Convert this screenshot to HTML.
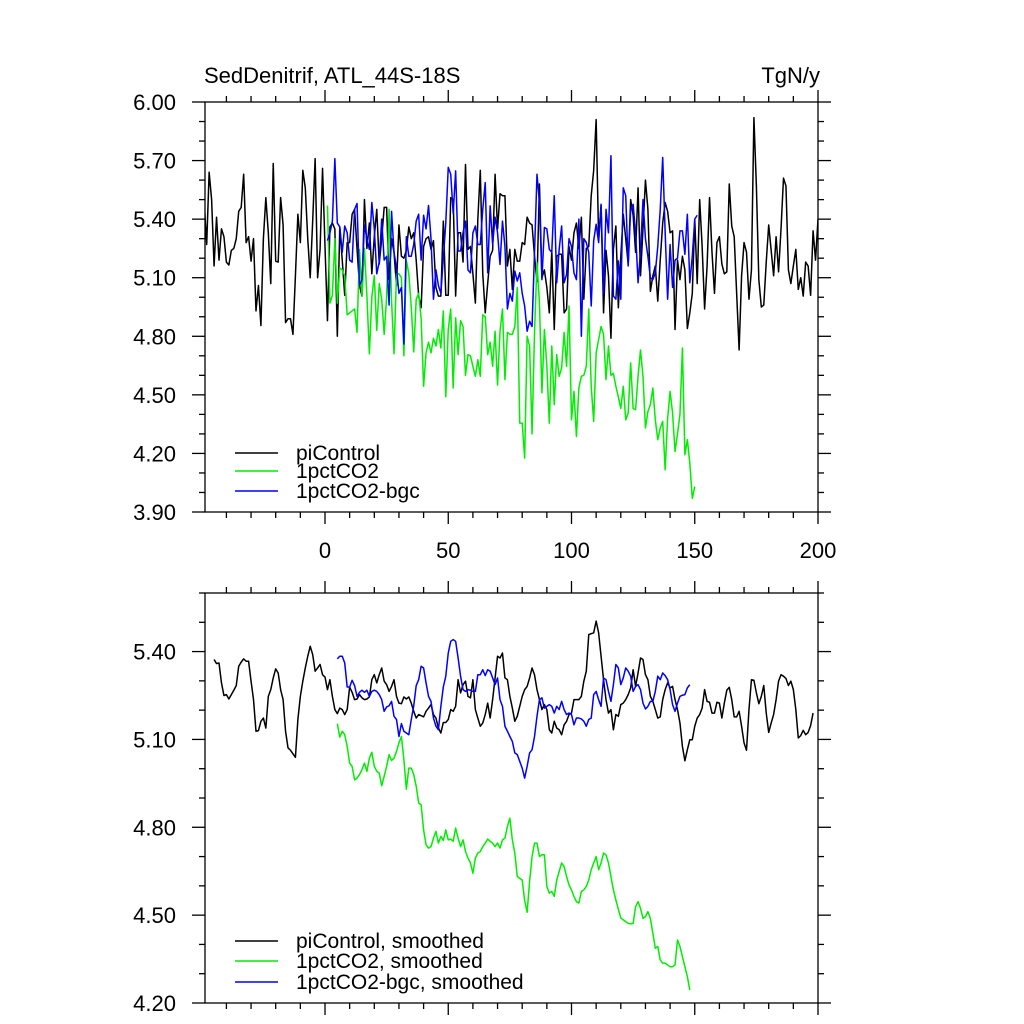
<!DOCTYPE html>
<html><head><meta charset="utf-8"><style>
html,body{margin:0;padding:0;background:#fff;}
svg{display:block;font-family:"Liberation Sans",Arial,sans-serif;}
</style></head><body>
<svg id="chart" width="1024" height="1024" viewBox="0 0 1024 1024" xmlns="http://www.w3.org/2000/svg">
<defs>
<clipPath id="clipTop"><rect x="205" y="102" width="613" height="410"/></clipPath>
<clipPath id="clipBot"><rect x="205" y="593" width="613" height="410"/></clipPath>
</defs>
<text x="204" y="83" font-size="22">SedDenitrif, ATL_44S-18S</text>
<text x="820" y="83" font-size="22" text-anchor="end">TgN/y</text>
<g id="top"></g>
<g id="bot"></g>
</svg>
<script>
const piTopStart = -49;
const piTop = [5.485,5.27,5.64,5.50,5.16,5.41,5.19,5.35,5.31,5.18,5.165,5.24,5.25,5.30,5.44,5.46,5.63,5.28,5.31,5.185,5.30,4.93,5.06,4.855,5.30,5.51,5.33,5.07,5.685,5.185,5.18,5.51,5.37,4.87,4.89,4.89,4.81,5.11,5.425,5.28,5.65,5.56,5.30,5.10,5.39,5.71,5.10,5.245,5.66,5.26,
4.88,5.36,5.38,5.35,4.80,5.36,5.19,5.01,5.28,5.28,5.425,5.45,5.245,5.06,5.006,5.50,5.25,5.38,5.12,5.31,5.45,5.17,5.30,5.46,5.46,5.09,5.30,5.23,5.06,5.37,5.21,5.20,5.24,5.36,5.30,5.33,5.19,
5.006,4.946,5.26,5.30,5.31,5.245,5.29,5.05,5.006,5.006,5.39,5.01,5.01,5.51,5.50,5.006,5.33,5.33,5.18,5.68,5.245,5.26,5.12,4.97,5.40,5.65,5.12,4.92,5.07,5.21,5.24,5.63,5.35,5.53,5.52,5.52,5.16,5.245,5.04,5.245,5.185,5.185,5.28,5.27,5.41,5.38,5.37,5.21,5.08,5.58,5.10,5.14,5.05,4.92,5.24,4.835,5.21,5.22,5.22,4.92,4.94,5.26,5.19,5.33,5.38,5.25,5.41,4.99,5.25,5.26,5.52,5.65,5.91,5.30,5.47,4.92,5.24,5.11,4.79,5.245,5.365,4.946,5.21,5.425,5.30,5.17,
5.50,5.42,5.23,5.56,5.11,5.35,5.60,5.45,5.03,5.11,5.16,4.98,5.19,5.38,5.485,5.44,5.33,5.34,4.835,5.19,5.09,5.21,5.14,4.84,4.92,5.02,5.40,5.07,5.50,5.26,4.94,5.16,5.51,5.23,5.02,5.28,5.31,5.17,5.12,5.13,5.58,5.365,5.31,5.02,4.73,5.11,5.28,5.23,4.99,5.14,5.92,5.57,5.09,4.95,4.96,5.18,5.37,5.24,5.11,5.31,5.13,5.35,5.61,5.57,5.14,5.07,5.16,5.245,5.04,5.10,5.006,5.18,5.16,5.01,5.34,5.19,5.40];
const co2TopStart = 1;
const co2Top = [5.47,4.97,5.01,5.30,4.97,5.15,5.14,5.11,4.91,4.92,4.93,4.94,4.82,5.245,5.006,5.25,5.006,4.71,5.00,5.11,4.83,5.07,4.99,4.81,5.00,5.45,4.98,4.71,5.12,5.12,5.10,4.70,5.19,5.12,4.95,4.72,4.99,5.02,
4.89,4.544,4.715,4.77,4.715,4.79,4.75,4.835,4.74,4.93,4.49,4.835,4.94,4.535,4.895,4.706,4.88,4.85,4.60,4.706,4.70,4.646,4.595,4.68,4.595,4.91,4.90,4.706,4.77,4.646,4.826,4.55,4.826,4.94,4.578,4.82,4.81,4.81,4.85,5.05,4.355,4.355,4.176,4.80,4.75,4.30,4.82,5.177,4.97,4.51,4.835,4.646,4.355,4.75,4.45,4.706,4.595,4.638,4.82,4.646,4.955,4.372,4.518,4.287,4.535,4.595,4.60,4.646,4.94,4.544,4.364,4.715,4.783,4.85,4.81,4.578,4.75,4.60,4.61,4.544,4.49,4.43,4.544,4.372,4.407,
4.664,4.43,4.424,4.595,4.73,4.595,4.33,4.415,4.45,4.535,4.372,4.27,4.33,4.364,4.116,4.38,4.518,4.407,4.21,4.30,4.40,4.74,4.193,4.27,4.15,3.97,4.03];
const bgcTopStart = 1;
const bgcTop = [5.29,5.33,5.39,5.71,5.38,5.36,5.23,5.365,5.33,5.19,5.18,5.45,5.48,5.06,5.09,5.37,5.30,5.245,5.485,5.35,5.12,5.18,5.40,5.19,5.21,4.96,5.44,5.23,5.15,5.02,5.05,4.76,5.31,5.21,5.21,5.27,5.39,5.425,
5.19,5.42,5.35,5.47,5.30,4.99,5.14,5.06,5.02,5.20,5.38,5.665,5.63,5.43,5.647,5.237,5.237,5.33,5.39,5.14,5.125,5.33,5.365,5.27,5.27,5.45,5.587,5.125,5.468,5.27,5.41,5.33,5.168,5.39,5.26,4.94,5.02,4.98,5.134,5.083,5.125,5.02,4.955,4.826,4.877,4.85,5.23,5.63,5.485,5.09,5.357,5.35,5.245,5.23,5.52,5.074,5.245,5.365,5.074,5.117,5.30,5.26,5.125,5.09,5.40,4.80,5.30,5.28,5.23,4.955,5.29,5.374,5.28,5.476,5.02,5.45,5.33,5.725,5.006,4.99,5.186,4.99,5.56,5.52,5.16,5.45,
5.476,5.33,5.074,5.237,5.50,5.30,5.21,5.10,5.09,5.125,5.26,5.45,5.716,5.33,4.99,5.27,5.05,5.19,5.20,5.34,5.34,5.22,5.425,5.074,5.21,5.40,5.42];

const piBotStart = -45;
const piBot = [5.373,5.359,5.361,5.293,5.250,5.253,5.238,5.253,5.268,5.284,5.350,5.364,5.375,5.367,5.367,5.299,5.236,5.128,5.130,5.162,5.173,5.139,5.247,5.270,5.310,5.341,5.327,5.270,5.236,5.128,5.071,5.063,5.051,5.039,5.168,5.247,5.299,5.344,5.384,5.418,5.390,5.333,5.344,5.356,5.321,5.313,5.270,5.304,5.247,5.202,5.188,5.207,5.202,5.185,5.202,5.279,5.261,5.236,5.238,5.253,5.242,5.236,5.238,5.245,5.304,5.321,5.293,5.321,5.344,5.299,5.287,5.264,5.281,5.304,5.247,5.224,5.222,5.245,5.238,5.245,5.224,5.196,5.173,5.185,
5.181,5.177,5.196,5.207,5.219,5.185,5.173,5.139,5.122,5.158,5.158,5.168,5.202,5.196,5.213,5.304,5.259,5.287,5.299,5.247,5.242,5.304,5.202,5.173,5.145,5.156,5.185,5.224,5.173,5.236,5.310,5.384,5.378,5.395,5.310,5.304,5.247,5.207,5.162,5.179,5.213,5.247,5.270,5.281,5.310,5.344,5.321,5.270,5.236,5.202,5.219,5.202,5.133,5.122,5.162,5.139,5.133,5.116,5.150,5.162,5.185,5.190,5.236,5.236,5.236,5.247,5.299,5.333,5.458,5.461,5.464,5.504,5.464,5.384,5.304,5.236,5.190,5.202,5.133,5.185,5.179,5.219,5.224,5.236,5.253,5.276,
5.338,5.281,5.327,5.378,5.373,5.321,5.304,5.247,5.230,5.202,5.173,5.177,5.236,5.270,5.293,5.276,5.281,5.236,5.202,5.156,5.076,5.027,5.065,5.099,5.099,5.145,5.173,5.185,5.207,5.270,5.230,5.227,5.190,5.190,5.227,5.224,5.173,5.224,5.268,5.278,5.236,5.177,5.177,5.196,5.145,5.088,5.063,5.202,5.304,5.302,5.259,5.222,5.247,5.284,5.190,5.124,5.156,5.185,5.236,5.299,5.321,5.316,5.308,5.284,5.299,5.270,5.202,5.105,5.113,5.131,5.116,5.124,5.147,5.190];
const co2BotStart = 5;
const co2Bot = [5.154,5.108,5.128,5.116,5.076,5.019,5.008,4.962,4.968,4.980,4.997,5.019,4.991,5.036,5.056,5.008,4.991,4.985,4.942,4.974,5.008,5.048,5.028,5.036,5.059,5.088,5.110,5.031,4.930,5.002,5.002,4.980,4.940,4.883,
4.877,4.791,4.740,4.729,4.734,4.763,4.786,4.746,4.769,4.755,4.791,4.757,4.760,4.752,4.797,4.763,4.734,4.757,4.717,4.695,4.678,4.643,4.695,4.712,4.717,4.734,4.746,4.760,4.752,4.746,4.734,4.746,4.729,4.757,4.763,4.803,4.831,4.757,4.712,4.632,4.626,4.620,4.55,4.51,4.615,4.700,4.746,4.746,4.700,4.706,4.706,4.598,4.575,4.581,4.564,4.620,4.649,4.678,4.666,4.632,4.603,4.586,4.564,4.546,4.541,4.581,4.586,4.598,4.620,4.655,4.678,4.700,4.655,4.678,4.712,4.706,4.678,4.632,4.586,4.552,4.52,4.49,
4.484,4.478,4.472,4.470,4.472,4.529,4.546,4.523,4.489,4.495,4.512,4.489,4.438,4.387,4.393,4.347,4.336,4.336,4.330,4.324,4.324,4.330,4.415,4.393,4.358,4.324,4.290,4.244];
const bgcBotStart = 5;
const bgcBot = [5.375,5.384,5.384,5.361,5.279,5.279,5.302,5.284,5.247,5.261,5.268,5.261,5.268,5.247,5.264,5.268,5.264,5.253,5.236,5.196,5.211,5.215,5.230,5.179,5.168,5.110,5.154,5.128,5.122,5.116,5.168,5.215,5.284,5.304,
5.350,5.344,5.293,5.247,5.230,5.173,5.145,5.133,5.213,5.279,5.316,5.395,5.435,5.441,5.435,5.378,5.316,5.270,5.264,5.270,5.268,5.264,5.264,5.321,5.321,5.338,5.318,5.338,5.333,5.310,5.287,5.310,5.236,5.213,5.145,5.128,5.110,5.093,5.054,5.048,5.025,5.002,4.968,5.008,5.054,5.065,5.110,5.179,5.236,5.242,5.207,5.213,5.219,5.213,5.190,5.213,5.202,5.230,5.202,5.185,5.190,5.185,5.150,5.173,5.173,5.170,5.162,5.145,5.168,5.173,5.253,5.264,5.236,5.213,5.310,5.304,5.264,5.230,5.287,5.356,5.344,5.287,5.310,5.344,5.333,5.316,
5.264,5.281,5.287,5.270,5.224,5.204,5.213,5.230,5.230,5.264,5.316,5.304,5.327,5.318,5.304,5.270,5.219,5.196,5.224,5.247,5.251,5.253,5.276,5.287];

const xTickVals = [0,50,100,150,200];
const topYTicks = [3.90,4.20,4.50,4.80,5.10,5.40,5.70,6.00];
const botYTicks = [4.20,4.50,4.80,5.10,5.40];
const topLegend = ["piControl","1pctCO2","1pctCO2-bgc"];
const botLegend = ["piControl, smoothed","1pctCO2, smoothed","1pctCO2-bgc, smoothed"];
const colors = ["#000000","#00ee00","#0000ff"];

const NS = "http://www.w3.org/2000/svg";
const L = 205, R = 818;
function xs(v){ return 325 + (v - 0) * (R - 325) / 200; }
function mk(tag, attrs, parent){ const e = document.createElementNS(NS, tag); for (const k in attrs) e.setAttribute(k, attrs[k]); parent.appendChild(e); return e; }

function panel(g, top, bot, ymin, ymax, yTicks, clipId, series, legend, legY, showXLabels){
  const ys = v => bot - (v - ymin) * (bot - top) / (ymax - ymin);
  const axis = mk('g', {stroke:'#000','stroke-width':1.3,fill:'none'}, g);
  
  
  const fr = mk('rect', {x:L, y:top, width:R-L, height:bot-top}, axis);
  
  
  for (let v = -40; v <= 200; v += 10) {
    const x = xs(v); const major = v % 50 === 0;
    const len = major ? 12 : 6;
    mk('line', {x1:x, x2:x, y1:top, y2:top-len}, axis);
    mk('line', {x1:x, x2:x, y1:bot, y2:bot+len}, axis);
  }
  for (let v = ymin; v <= ymax + 1e-6; v += 0.1) {
    const y = ys(v);
    const major = yTicks.some(t => Math.abs(t - v) < 1e-6);
    const len = major ? 13 : 6;
    mk('line', {x1:L, x2:L-len, y1:y, y2:y}, axis);
    mk('line', {x1:R, x2:R+len, y1:y, y2:y}, axis);
  }
  yTicks.forEach(t => {
    const tx = mk('text', {x:176, y:ys(t)+8, 'font-size':22, 'text-anchor':'end', fill:'#000'}, g);
    tx.textContent = t.toFixed(2);
    
    
  });
  if (showXLabels) {
    xTickVals.forEach(t => {
      const tx = mk('text', {x:xs(t), y:558, 'font-size':22, 'text-anchor':'middle', fill:'#000'}, g);
      tx.textContent = String(t);
      
      
    });
  }
  const lines = mk('g', {'clip-path':'url(#'+clipId+')', fill:'none', 'stroke-width':1.5, 'stroke-linejoin':'round'}, g);
  series.forEach((s, i) => {
    const d = s.vals.map((v, j) => (j ? 'L' : 'M') + xs(s.start + j).toFixed(2) + ',' + ys(v).toFixed(2)).join('');
    const p = mk('path', {d:d, stroke:colors[i]}, lines);
    
    
  });
  legend.forEach((lab, i) => {
    const y = legY[i];
    const ln = mk('line', {x1:235, x2:278, y1:y, y2:y, stroke:colors[i], 'stroke-width':1.5}, g);
    
    
    const tx = mk('text', {x:296, y:y+7, 'font-size':21, fill:'#000'}, g);
    tx.textContent = lab;
    
    
  });
}

panel(document.getElementById('top'), 102, 512, 3.90, 6.00, topYTicks, 'clipTop',
  [{vals:piTop,start:piTopStart,name:'picontrol-line'},{vals:co2Top,start:co2TopStart,name:'1pctco2-line'},{vals:bgcTop,start:bgcTopStart,name:'1pctco2-bgc-line'}],
  topLegend, [453,471,491], true);
panel(document.getElementById('bot'), 593, 1003, 4.20, 5.60, botYTicks, 'clipBot',
  [{vals:piBot,start:piBotStart,name:'picontrol-smoothed-line'},{vals:co2Bot,start:co2BotStart,name:'1pctco2-smoothed-line'},{vals:bgcBot,start:bgcBotStart,name:'1pctco2-bgc-smoothed-line'}],
  botLegend, [941,961,982], false);
</script>
</body></html>
